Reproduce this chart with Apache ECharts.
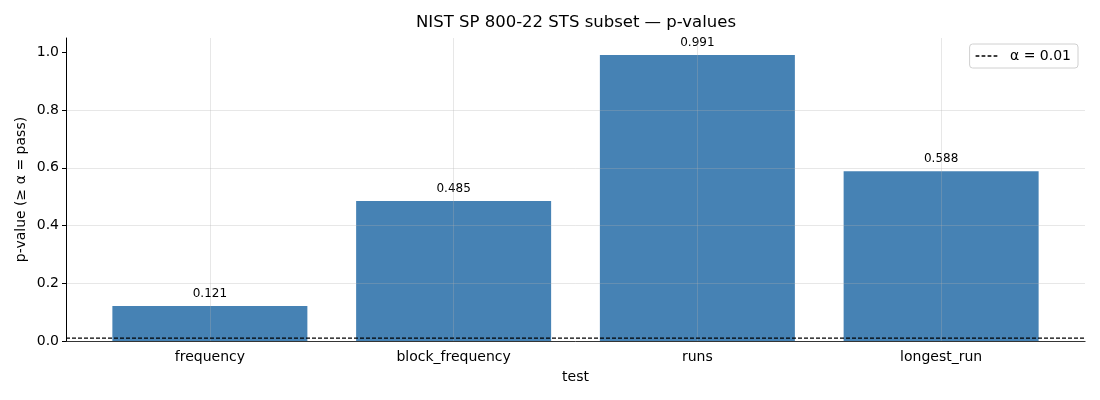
<!DOCTYPE html>
<html>
<head>
<meta charset="utf-8">
<script src="https://cdn.jsdelivr.net/npm/echarts@6/dist/echarts.min.js"></script>
<style>
  html, body { margin: 0; padding: 0; background: #fff; }
  #chart { width: 1100px; height: 400px; }
</style>
</head>
<body>
<div id="chart"></div>
<script>
// data
const tests = ["frequency", "block_frequency", "runs", "longest_run"];
const pValues = [0.121, 0.485, 0.991, 0.588];
const alpha = 0.01;
const yTicks = [0, 0.2, 0.4, 0.6, 0.8, 1.0];

const FONT = "DejaVu Sans";
const GRID_COLOR = "rgba(176,176,176,0.3)";
// four dashes, drawn as filled bars for the legend key
const DASH_ICON = "path://M0,0h5v2h-5z M8,0h5v2h-5z M16,0h5v2h-5z M24,0h5v2h-5z";

const chart = echarts.init(document.getElementById("chart"));

chart.setOption({
  animation: false,
  textStyle: { fontFamily: FONT, color: "#000" },

  title: {
    text: "NIST SP 800-22 STS subset — p-values",
    // centred over the plot area rather than the page
    left: 411,
    top: 9,
    textStyle: { fontFamily: FONT, fontSize: 16.5, fontWeight: "normal", color: "#000" },
  },

  legend: {
    data: [{ name: "α = 0.01", icon: DASH_ICON }],
    right: 22,
    top: 44,
    itemWidth: 29,
    itemHeight: 1.5,
    itemGap: 8,
    padding: [5, 7, 5, 6],
    backgroundColor: "#fff",
    borderColor: "#d0d0d0",
    borderWidth: 1,
    borderRadius: 3,
    itemStyle: { color: "#000" },
    textStyle: { fontFamily: FONT, fontSize: 14, color: "#000", padding: [0, 0, 0, 4] },
  },

  grid: [
    // full plot area: spines, horizontal grid, alpha line
    { left: 66, right: 15, top: 38, bottom: 59 },
    // bars
    { left: 88, right: 37, top: 38, bottom: 59 },
    // vertical grid lines through category centres
    { left: 210, right: 159, top: 38, bottom: 59 },
  ],

  xAxis: [
    {
      gridIndex: 0,
      type: "value",
      min: 0,
      max: 1,
      axisLine: { show: true, lineStyle: { color: "#000", width: 1 } },
      axisTick: { show: false },
      axisLabel: { show: false },
      splitLine: { show: false },
    },
    {
      gridIndex: 1,
      type: "category",
      data: tests,
      name: "test",
      nameLocation: "middle",
      nameGap: 29,
      nameTextStyle: { fontFamily: FONT, fontSize: 14, color: "#000" },
      axisLine: { show: false },
      axisTick: { alignWithLabel: true, length: 4, lineStyle: { color: "#000" } },
      axisLabel: { fontFamily: FONT, fontSize: 14, color: "#000", margin: 9 },
      splitLine: { show: false },
    },
    {
      gridIndex: 2,
      type: "value",
      min: 0,
      max: 3,
      interval: 1,
      z: 5,
      axisLine: { show: false },
      axisTick: { show: false },
      axisLabel: { show: false },
      splitLine: { show: true, lineStyle: { color: GRID_COLOR, width: 1 } },
    },
  ],

  yAxis: [
    {
      gridIndex: 0,
      type: "value",
      min: 0,
      max: 1.05,
      interval: 0.2,
      z: 5,
      name: "p-value (≥ α = pass)",
      nameLocation: "middle",
      nameGap: 38,
      nameMoveOverlap: false,
      nameTextStyle: { fontFamily: FONT, fontSize: 14, color: "#000" },
      axisLine: { show: true, lineStyle: { color: "#000", width: 1 } },
      axisTick: { show: true, length: 4, lineStyle: { color: "#000" }, customValues: yTicks },
      axisLabel: {
        fontFamily: FONT,
        fontSize: 14,
        color: "#000",
        margin: 7,
        customValues: yTicks,
        formatter: (v) => v.toFixed(1),
      },
      splitLine: { show: true, showMaxLine: false, lineStyle: { color: GRID_COLOR, width: 1 } },
    },
    { gridIndex: 1, type: "value", min: 0, max: 1.05, show: false },
    { gridIndex: 2, type: "value", min: 0, max: 1.05, show: false },
  ],

  series: [
    {
      type: "bar",
      xAxisIndex: 1,
      yAxisIndex: 1,
      data: pValues,
      barWidth: "80%",
      itemStyle: { color: "#4682b4" },
      label: {
        show: true,
        position: "top",
        distance: 6,
        fontFamily: FONT,
        fontSize: 12,
        color: "#000",
        formatter: (p) => p.value.toFixed(3),
      },
      z: 2,
    },
    {
      name: "α = 0.01",
      type: "line",
      xAxisIndex: 0,
      yAxisIndex: 0,
      data: [[0, alpha], [1, alpha]],
      symbol: "none",
      lineStyle: { color: "#000", width: 1.2, type: [4, 2] },
      itemStyle: { color: "#000" },
      z: 10,
    },
  ],
});
</script>
</body>
</html>
